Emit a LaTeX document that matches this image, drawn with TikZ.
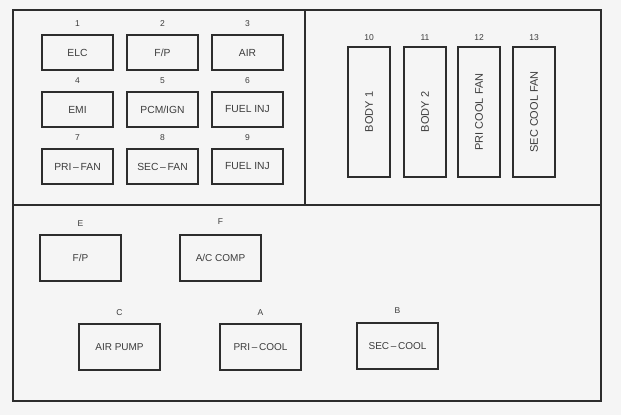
\documentclass[tikz,border=0pt]{standalone}
\usepackage{fontspec}
\setmainfont{Liberation Sans}
\definecolor{bg}{RGB}{245,245,245}
\definecolor{ink}{RGB}{45,45,45}
\definecolor{txt}{RGB}{60,60,60}
\begin{document}
\begin{tikzpicture}[x=1pt,y=-1pt,
  fuse/.style={draw=ink,line width=2pt,fill=bg,inner sep=0pt,text=txt},
  small/.style={fuse,minimum width=71pt,minimum height=35pt,font=\fontsize{10.3}{11}\selectfont},
  tall/.style={fuse,minimum width=42pt,minimum height=130pt,font=\fontsize{11}{12}\selectfont},
  relay/.style={fuse,minimum width=81pt,minimum height=46pt,font=\fontsize{10}{11}\selectfont},
  num/.style={inner sep=0pt,text=txt,font=\fontsize{8.5}{9}\selectfont}]
\fill[bg] (0,0) rectangle (621,415);
\useasboundingbox (0,0) rectangle (621,415);
% frame
\draw[ink,line width=1.8pt] (13,10) rectangle (601,401);
\coordinate (hl) at (13,205);
\coordinate (hr) at (601,205);
\coordinate (vt) at (305,10);
\coordinate (vb) at (305,205);
\draw[ink,line width=1.8pt] (hl) -- (hr);
\draw[ink,line width=1.8pt] (vt) -- (vb);
% small fuses
\node[small] (f1) at (77.5,52.5) {ELC};
\node[small] (f2) at (162.5,52.5) {F/P};
\node[small] (f3) at (247.5,52.5) {AIR};
\node[small] (f4) at (77.5,109.5) {EMI};
\node[small] (f5) at (162.5,109.5) {PCM/IGN};
\node[small] (f6) at (247.5,109.5) {FUEL INJ};
\node[small] (f7) at (77.5,166.5) {PRI\,–\,FAN};
\node[small] (f8) at (162.5,166.5) {SEC\,–\,FAN};
\node[small] (f9) at (247.5,166.5) {FUEL INJ};
\node[num] (n1) at (77.5,24) {1};
\node[num] (n2) at (162.5,24) {2};
\node[num] (n3) at (247.5,24) {3};
\node[num] (n4) at (77.5,81) {4};
\node[num] (n5) at (162.5,81) {5};
\node[num] (n6) at (247.5,81) {6};
\node[num] (n7) at (77.5,138) {7};
\node[num] (n8) at (162.5,138) {8};
\node[num] (n9) at (247.5,138) {9};
% tall fuses
\node[tall] (f10) at (369,112) {\rotatebox{90}{BODY 1}};
\node[tall] (f11) at (425,112) {\rotatebox{90}{BODY 2}};
\node[tall] (f12) at (479,112) {\rotatebox{90}{PRI COOL FAN}};
\node[tall] (f13) at (534,112) {\rotatebox{90}{SEC COOL FAN}};
\node[num] (n10) at (369,38) {10};
\node[num] (n11) at (425,38) {11};
\node[num] (n12) at (479,38) {12};
\node[num] (n13) at (534,38) {13};
% relays
\node[relay] (rE) at (80.5,258) {F/P};
\node[relay] (rF) at (220.5,258) {A/C COMP};
\node[relay] (rC) at (119.5,347) {AIR PUMP};
\node[relay] (rA) at (260.5,347) {PRI\,–\,COOL};
\node[relay] (rB) at (397.5,346) {SEC\,–\,COOL};
\node[num] (lE) at (80.5,224) {E};
\node[num] (lF) at (220.5,222) {F};
\node[num] (lC) at (119.5,313) {C};
\node[num] (lA) at (260.5,313) {A};
\node[num] (lB) at (397.5,311) {B};
\end{tikzpicture}
\end{document}
